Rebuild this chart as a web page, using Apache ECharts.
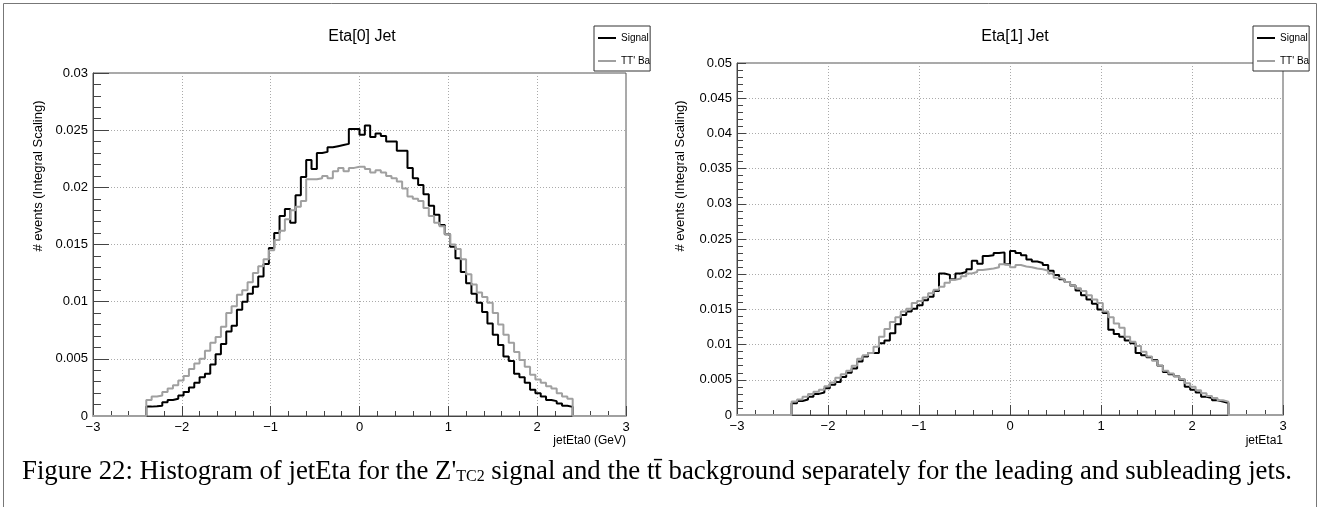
<!DOCTYPE html>
<html lang="en">
<head>
    <meta charset="UTF-8">
    <title>jetEta</title>
    <script src="https://cdn.jsdelivr.net/npm/echarts@6/dist/echarts.min.js"></script>
</head>
<body style="margin:0; background:#fff;">

<div id="chart_wrap" style="width: 1320px; height: 507px;"></div>

<script>
    // histogram bins: 0.06 wide, filled from -2.4 to 2.4
    var binStart = -2.4;
    var binWidth = 0.06;

    // Eta[0] Jet
    var sig0 = [
        0.00082, 0.00085, 0.0009, 0.0012, 0.0014, 0.0015, 0.0018, 0.0021, 0.0025, 0.0029,
        0.0034, 0.0037, 0.0045, 0.0054, 0.0063, 0.0074, 0.0079, 0.0093, 0.0100, 0.0107,
        0.0113, 0.0122, 0.0133, 0.0147, 0.0160, 0.0175, 0.0181, 0.0169, 0.0193, 0.0209,
        0.0224, 0.0216, 0.0230, 0.0231, 0.0235, 0.0236, 0.0237, 0.0238, 0.0251, 0.0251,
        0.0246, 0.0254, 0.0244, 0.0247, 0.0245, 0.0240, 0.0240, 0.0232, 0.0232, 0.0217,
        0.0208, 0.0202, 0.0194, 0.0184, 0.0176, 0.0167, 0.0159, 0.0148, 0.0138, 0.0126,
        0.0116, 0.0107, 0.0099, 0.0091, 0.0081, 0.0071, 0.0062, 0.0052, 0.0048, 0.0037,
        0.0034, 0.0029, 0.0023, 0.0020, 0.0017, 0.0014, 0.0013, 0.0011, 0.0009, 0.0008
    ];
    var bkg0 = [
        0.0014, 0.0017, 0.0018, 0.0021, 0.0024, 0.0027, 0.0031, 0.0035, 0.0041, 0.0046,
        0.0050, 0.0057, 0.0064, 0.0069, 0.0078, 0.0090, 0.0096, 0.0106, 0.0110, 0.0117,
        0.0125, 0.0131, 0.0137, 0.0145, 0.0154, 0.0162, 0.0172, 0.0180, 0.0183, 0.0188,
        0.0207, 0.0207, 0.0208, 0.0210, 0.0208, 0.0214, 0.0217, 0.0214, 0.0217, 0.0218,
        0.0218, 0.0216, 0.0213, 0.0215, 0.0213, 0.0210, 0.0208, 0.0205, 0.0199, 0.0192,
        0.0190, 0.0188, 0.0182, 0.0175, 0.0169, 0.0166, 0.0159, 0.0150, 0.0146, 0.0137,
        0.0124, 0.0115, 0.0108, 0.0104, 0.0099, 0.0090, 0.0080, 0.0071, 0.0064, 0.0056,
        0.0049, 0.0043, 0.0036, 0.0032, 0.0029, 0.0026, 0.0024, 0.0020, 0.0017, 0.0015
    ];

    // Eta[1] Jet
    var sig1 = [
        0.00166, 0.0020, 0.0022, 0.0026, 0.0030, 0.0032, 0.0038, 0.0043, 0.0047, 0.0054,
        0.0060, 0.0066, 0.0076, 0.0083, 0.0088, 0.0088, 0.0102, 0.0106, 0.0116, 0.0129,
        0.0142, 0.0147, 0.0151, 0.0156, 0.0163, 0.0168, 0.0176, 0.0201, 0.0199, 0.0193,
        0.0201, 0.0203, 0.0207, 0.0219, 0.0215, 0.0226, 0.0227, 0.0230, 0.0231, 0.0214,
        0.0233, 0.0230, 0.0227, 0.0221, 0.0218, 0.0216, 0.0213, 0.0205, 0.0199, 0.0193,
        0.0189, 0.0184, 0.0177, 0.0170, 0.0164, 0.0158, 0.0150, 0.0145, 0.0121, 0.0115,
        0.0111, 0.0106, 0.0102, 0.0088, 0.0085, 0.0082, 0.0078, 0.0070, 0.0061, 0.0058,
        0.0055, 0.0050, 0.0040, 0.0036, 0.0032, 0.0026, 0.0024, 0.0021, 0.0019, 0.0017
    ];
    var bkg1 = [
        0.0019, 0.0022, 0.0026, 0.0030, 0.0033, 0.0036, 0.0041, 0.0046, 0.0053, 0.0058,
        0.0063, 0.0070, 0.0080, 0.0085, 0.0088, 0.0097, 0.0111, 0.0122, 0.0132, 0.0139,
        0.0147, 0.0151, 0.0159, 0.0162, 0.0167, 0.0173, 0.0178, 0.0182, 0.0188, 0.0192,
        0.0194, 0.0197, 0.0201, 0.0203, 0.0206, 0.0207, 0.0208, 0.0210, 0.0214, 0.0213,
        0.0210, 0.0213, 0.0211, 0.0210, 0.0208, 0.0207, 0.0205, 0.0201, 0.0195, 0.0193,
        0.0189, 0.0184, 0.0180, 0.0176, 0.0170, 0.0164, 0.0159, 0.0147, 0.0139, 0.0130,
        0.0124, 0.0111, 0.0104, 0.0098, 0.0090, 0.0083, 0.0077, 0.0070, 0.0063, 0.0059,
        0.0055, 0.0051, 0.0045, 0.0040, 0.0035, 0.0031, 0.0027, 0.0024, 0.0021, 0.0019
    ];

    var xTicks = [-3, -2, -1, 0, 1, 2, 3];

    // turn bin contents into step points (lower edges), with empty range on both sides
    function histPoints(vals) {
        var pts = [[xTicks[0], 0]];
        for (var i = 0; i < vals.length; i++) {
            pts.push([+(binStart + i * binWidth).toFixed(2), vals[i]]);
        }
        pts.push([+(binStart + vals.length * binWidth).toFixed(2), 0]);
        pts.push([xTicks[xTicks.length - 1], 0]);
        return pts;
    }

    var chart = echarts.init(document.getElementById("chart_wrap"));

    var font = "'Liberation Sans', Arial, sans-serif";
    var serif = "'Liberation Serif', 'Times New Roman', serif";

    function minusFmt(v) {
        return v < 0 ? '\u2212' + (-v) : String(v);
    }

    function xAxisOf(idx) {
        return {
            type: 'value', gridIndex: idx, min: xTicks[0], max: xTicks[xTicks.length - 1], interval: 1,
            axisLine: { onZero: false, lineStyle: { color: '#444' } },
            axisTick: { inside: true, length: 10, lineStyle: { color: '#444' } },
            minorTick: { show: true, splitNumber: 5, length: 5, lineStyle: { color: '#444' } },
            axisLabel: { color: '#000', fontFamily: font, fontSize: 13, margin: 5, formatter: minusFmt, showMinLabel: true, showMaxLabel: true },
            splitLine: { show: true, lineStyle: { color: '#aaa', type: [1, 2] } }
        };
    }

    function yAxisOf(idx, max, tickLen, minorLen) {
        return {
            type: 'value', gridIndex: idx, min: 0, max: max, interval: 0.005,
            axisLine: { show: true, onZero: false, lineStyle: { color: '#444' } },
            axisTick: { inside: true, length: tickLen, lineStyle: { color: '#444' } },
            minorTick: { show: true, splitNumber: 5, length: minorLen, lineStyle: { color: '#444' } },
            axisLabel: { color: '#000', fontFamily: font, fontSize: 13, margin: 5, showMinLabel: true, showMaxLabel: true },
            splitLine: { show: true, lineStyle: { color: '#aaa', type: [1, 2] } }
        };
    }

    function histSeries(name, vals, idx, color) {
        return {
            name: name, type: 'line', step: 'end',
            xAxisIndex: idx, yAxisIndex: idx,
            data: histPoints(vals),
            symbol: 'none', showSymbol: false,
            lineStyle: { color: color, width: 2 },
            itemStyle: { color: color },
            emphasis: { disabled: true }
        };
    }

    function legendOf(left, textWidth) {
        return {
            left: left, top: 26, orient: 'vertical',
            data: ['Signal', "TT' Background"],
            icon: 'rect', itemWidth: 18, itemHeight: 2, itemGap: 13,
            padding: [7, 0, 5, 4],
            backgroundColor: '#fff', borderColor: '#333', borderWidth: 1, borderRadius: 0,
            textStyle: { fontFamily: font, fontSize: 10, color: '#000', width: textWidth, overflow: 'truncate', ellipsis: '' }
        };
    }

    var option = {
        animation: false,
        backgroundColor: '#fff',
        title: [
            { text: 'Eta[0] Jet', left: 357, top: 24, textAlign: 'center',
              textStyle: { fontFamily: font, fontSize: 16, fontWeight: 'normal', color: '#000' } },
            { text: 'Eta[1] Jet', left: 1010, top: 24, textAlign: 'center',
              textStyle: { fontFamily: font, fontSize: 16, fontWeight: 'normal', color: '#000' } },
            {
                text: "{a|Figure 22: Histogram of jetEta for the Z'}{s|TC2}{a| signal and the t\u0074\u0304 background separately for the leading and subleading jets.}",
                left: 17, top: 453,
                textStyle: {
                    fontWeight: 'normal',
                    rich: {
                        a: { fontFamily: serif, fontSize: 26.8, fontWeight: 'normal', color: '#000' },
                        s: { fontFamily: serif, fontSize: 16, fontWeight: 'normal', color: '#000', verticalAlign: 'bottom' }
                    }
                }
            }
        ],
        legend: [legendOf(594, 31), legendOf(1253, 35)],
        grid: [
            { left: 93, top: 73, width: 533, height: 343, show: true, borderColor: '#555', borderWidth: 1, backgroundColor: 'transparent' },
            { left: 737, top: 63, width: 546, height: 352, show: true, borderColor: '#555', borderWidth: 1, backgroundColor: 'transparent' }
        ],
        xAxis: [xAxisOf(0), xAxisOf(1)],
        yAxis: [yAxisOf(0, 0.03, 16, 8), yAxisOf(1, 0.05, 9, 6)],
        series: [
            histSeries('Signal', sig0, 0, '#000'),
            histSeries("TT' Background", bkg0, 0, '#a0a0a0'),
            histSeries('Signal', sig1, 1, '#000'),
            histSeries("TT' Background", bkg1, 1, '#a0a0a0')
        ],
        graphic: [
            { type: 'rect', shape: { x: 3.5, y: 3.5, width: 1313, height: 520 }, style: { fill: 'none', stroke: '#777', lineWidth: 1 }, silent: true },
            { type: 'text', x: 38, y: 176, rotation: Math.PI / 2,
              style: { text: '# events (Integral Scaling)', font: '13px ' + font, fill: '#000', align: 'center', verticalAlign: 'middle' } },
            { type: 'text', x: 680, y: 176, rotation: Math.PI / 2,
              style: { text: '# events (Integral Scaling)', font: '13px ' + font, fill: '#000', align: 'center', verticalAlign: 'middle' } },
            { type: 'text', x: 626, y: 441,
              style: { text: 'jetEta0 (GeV)', font: '12px ' + font, fill: '#000', align: 'right', verticalAlign: 'middle' } },
            { type: 'text', x: 1283, y: 441,
              style: { text: 'jetEta1', font: '12px ' + font, fill: '#000', align: 'right', verticalAlign: 'middle' } }
        ]
    };

    chart.setOption(option);
</script>
</body>
</html>
